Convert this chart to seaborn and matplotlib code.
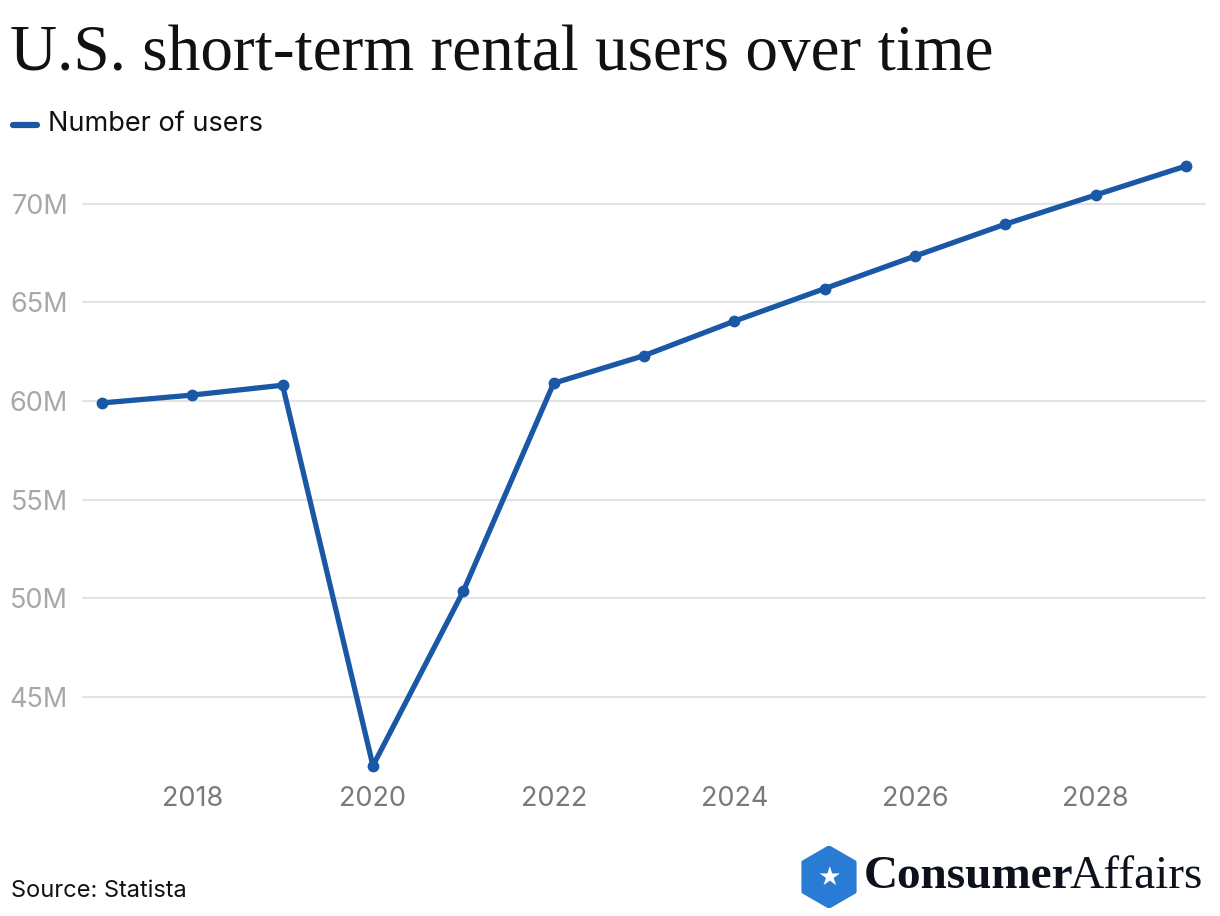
import matplotlib
matplotlib.use("Agg")
import matplotlib.pyplot as plt
from matplotlib.patches import RegularPolygon
from matplotlib.ticker import FuncFormatter
import pandas as pd
import seaborn as sns

years = [2017, 2018, 2019, 2020, 2021, 2022, 2023, 2024, 2025, 2026, 2027, 2028, 2029]
users_m = [59.9, 60.3, 60.8, 41.5, 50.35, 60.9, 62.3, 64.05, 65.7, 67.35, 68.97, 70.45, 71.92]
y_ticks = [45, 50, 55, 60, 65, 70]
x_ticks = [2018, 2020, 2022, 2024, 2026, 2028]

BLUE = "#1a58a6"
W, H = 1220, 916

df = pd.DataFrame({"year": years, "users": users_m})

sns.set_theme(style="white")
plt.rcParams["font.family"] = ["Inter", "DejaVu Sans"]

fig = plt.figure(figsize=(W / 100, H / 100), dpi=100)
ax = fig.add_axes([82 / W, 1 - 775 / H, 1124 / W, 625 / H])

sns.lineplot(data=df, x="year", y="users", ax=ax, color=BLUE, linewidth=3.8,
             marker="o", markersize=8.5, markeredgewidth=0, zorder=3)

ax.set_xlim(2016.78, 2029.22)
ax.set_ylim(41.03, 72.73)
ax.set_yticks(y_ticks)
ax.set_xticks(x_ticks)
ax.yaxis.set_major_formatter(FuncFormatter(lambda v, p: f"{int(v)}M"))
ax.grid(axis="y", color="#e3e3e3", linewidth=1.5)
ax.grid(axis="x", visible=False)
for s in ax.spines.values():
    s.set_visible(False)
ax.tick_params(axis="y", length=0, pad=10, labelsize=19.5, labelcolor="#a8a8a8")
ax.tick_params(axis="x", length=0, pad=8, labelsize=19.5, labelcolor="#7a7a7a")
ax.set_xlabel("")
ax.set_ylabel("")

# title, legend, source
fig.text(10 / W, 1 - 70 / H, "U.S. short-term rental users over time",
         family=["Liberation Serif", "DejaVu Serif"], fontsize=47, color="#111111",
         ha="left", va="baseline")
fig.lines.append(plt.Line2D([13 / W, 37 / W], [1 - 125 / H] * 2,
                            transform=fig.transFigure, color=BLUE, linewidth=4.5,
                            solid_capstyle="round"))
fig.text(48 / W, 1 - 124 / H, "Number of users", fontsize=19.5, color="#111111",
         ha="left", va="center")
fig.text(11 / W, 1 - 891 / H, "Source: Statista", fontsize=17, color="#111111",
         ha="left", va="center")

# logo
lax = fig.add_axes([798 / W, 1 - 908 / H, 62 / W, 62 / H])
lax.set_xlim(-1, 1)
lax.set_ylim(-1, 1)
lax.set_aspect("equal")
lax.axis("off")
lax.add_patch(RegularPolygon((0, 0), numVertices=6, radius=0.95, orientation=0,
                             facecolor="#2a7bd4", edgecolor="#2a7bd4",
                             linewidth=3, joinstyle="round"))
lax.text(0, -0.02, "\u2605", fontsize=19, color="white", ha="center", va="center",
         family=["DejaVu Sans"])
t1 = fig.text(864 / W, 1 - 877 / H, "Consumer", family=["Liberation Serif", "DejaVu Serif"],
              fontsize=34, fontweight="bold", color="#0c111c", ha="left", va="center")
fig.canvas.draw()
bb = t1.get_window_extent()
fig.text((bb.x1 - 4) / W, 1 - 877 / H, "Affairs", family=["Liberation Serif", "DejaVu Serif"],
         fontsize=34, color="#0c111c", ha="left", va="center")

fig.savefig("out.png", dpi=100)
